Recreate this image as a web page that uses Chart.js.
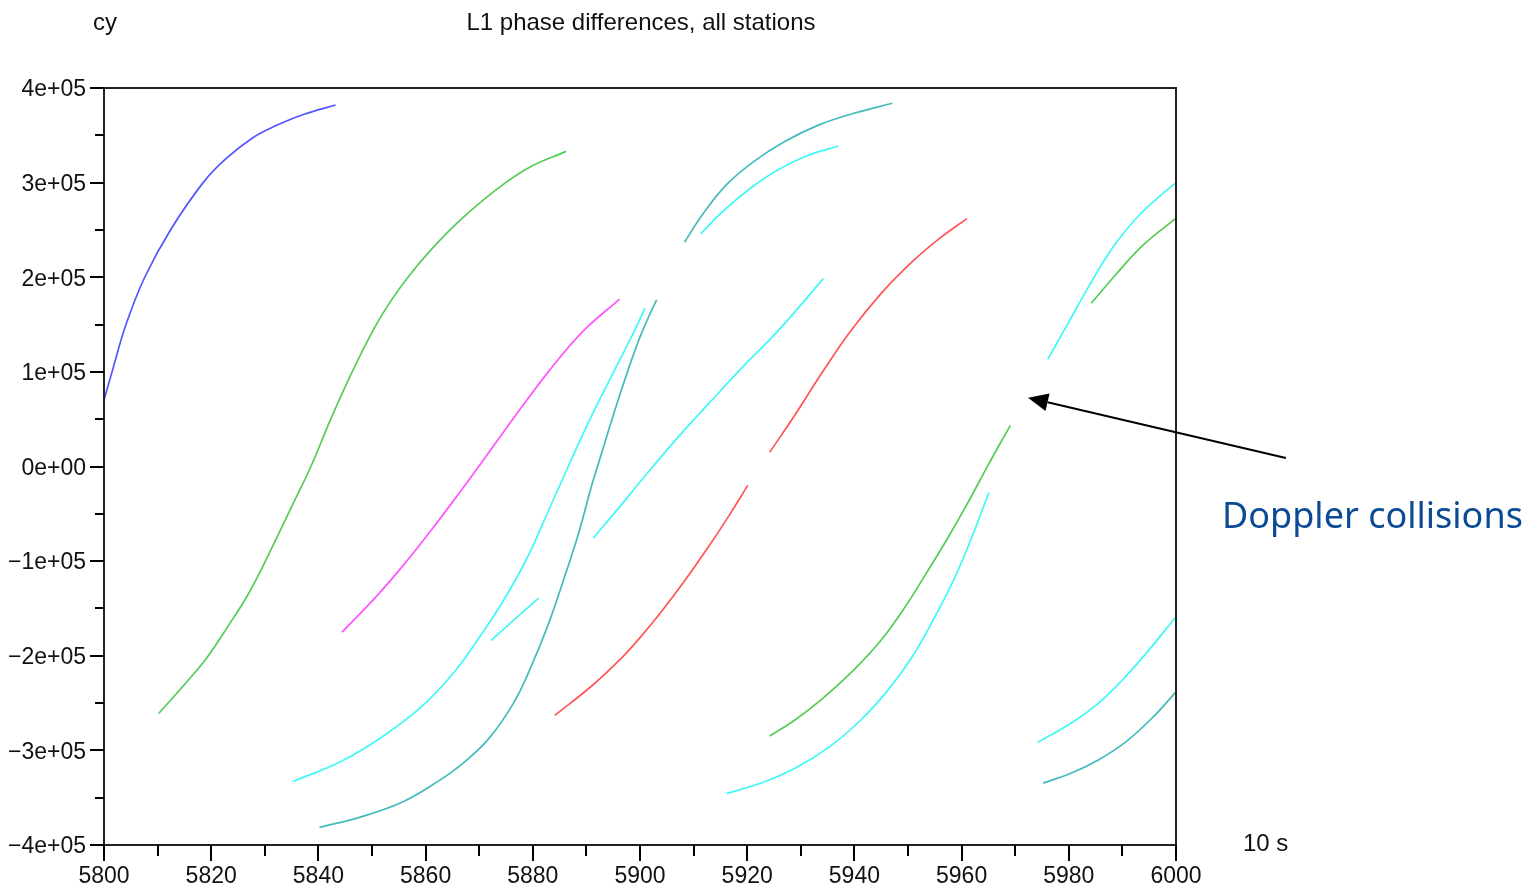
<!DOCTYPE html>
<html>
<head>
<meta charset="utf-8">
<script src="https://cdn.jsdelivr.net/npm/chart.js@4"></script>
<style>
  html, body { margin: 0; padding: 0; background: #ffffff; }
  #wrap { width: 1529px; height: 888px; }
</style>
</head>
<body>
<div id="wrap"><canvas id="c" width="1529" height="888"></canvas></div>
<script>
// ---- data: each segment is a list of [time (10 s units), phase difference (cy)] ----
const blue1 = [[5800,70000],[5801.5,100000],[5804.1,150000],[5807.6,200000],[5812.4,250000],[5818.5,300000],[5822.7,325000],[5827.9,348000],[5832,360000],[5837.2,372000],[5843.2,382000]];
const green1 = [[5810.2,-261000],[5815.3,-228500],[5819.2,-202000],[5823,-170000],[5826.9,-135000],[5830.8,-92000],[5835.3,-39000],[5838.6,0],[5842.3,50000],[5846.3,100000],[5850.4,146000],[5853.4,174000],[5857.1,203000],[5861,229000],[5866.2,259000],[5872.6,290000],[5879,315000],[5886.2,333000]];
const magenta1 = [[5844.4,-175000],[5850.7,-138000],[5855.9,-104000],[5861,-67600],[5866.2,-28700],[5870.3,3000],[5876.4,51000],[5882.9,100000],[5889.3,142500],[5896.2,177000]];
const cyanA = [[5835.3,-332800],[5844.3,-311600],[5852.6,-283000],[5859.7,-251500],[5865.5,-216100],[5870,-180800],[5874.5,-141900],[5879,-95900],[5882.9,-47000],[5886.6,0],[5890.5,48000],[5895,99000],[5898.5,138000],[5900.9,167000]];
const tealB = [[5840.2,-381300],[5848.1,-370000],[5855.9,-354000],[5862.3,-332800],[5867.4,-311600],[5871.9,-286800],[5876.4,-250000],[5879.6,-212600],[5882.9,-166600],[5886.1,-113600],[5888.7,-67600],[5890.9,-21600],[5892.4,6000],[5895.8,68200],[5899.4,128000],[5901.6,158000],[5903.1,176000]];
const cyanC = [[5872.2,-184000],[5876.5,-162000],[5881.1,-139000]];
const cyanD = [[5891.3,-75500],[5896,-44000],[5900.5,-13000],[5907.1,31000],[5912.9,67000],[5919.3,106000],[5925.7,143000],[5934.2,198500]];
const tealE = [[5908.3,237000],[5911.6,265800],[5916.1,297600],[5921.2,322200],[5927,343400],[5933.4,361000],[5939.9,373300],[5947.1,383900]];
const cyanF = [[5911.3,245700],[5915.4,269300],[5920.6,294000],[5925.7,313400],[5931.5,329200],[5937.1,338700]];
const redG = [[5924.2,15000],[5928.9,54400],[5934.1,100300],[5939.2,142500],[5945,183000],[5950.8,216500],[5955.9,241100],[5961,262000]];
const redH = [[5884.1,-263000],[5891.2,-230900],[5896.9,-200300],[5900,-180900],[5903.9,-154000],[5908.4,-120200],[5912.9,-83800],[5916.7,-51100],[5920.1,-20000]];
const greenI = [[5924.2,-284800],[5928.9,-267900],[5934.1,-245000],[5939.9,-215000],[5945,-183400],[5949.5,-148100],[5953.4,-112900],[5957.2,-77700],[5961.1,-39000],[5965,2000],[5969.1,43500]];
const cyanJ = [[5916.2,-345400],[5922.5,-334800],[5928.9,-319000],[5935.4,-296000],[5941.2,-267900],[5946.3,-236100],[5950.8,-201000],[5954.7,-162200],[5958.5,-120000],[5961.7,-77700],[5965.1,-27500]];
const cyanK = [[5976.1,113500],[5979.7,149600],[5983.6,189000],[5988.1,230600],[5992.6,262300],[5996.5,283400],[6000,300000]];
const greenL = [[5984.2,172600],[5988.7,202400],[5993.9,234100],[6000,262400]];
const cyanM = [[5974.2,-291500],[5980.4,-271400],[5985.5,-250300],[5990,-225600],[5994.5,-197000],[6000,-158800]];
const tealN = [[5975.2,-334600],[5980.4,-324200],[5985.5,-310100],[5990.7,-290700],[5995.8,-264300],[6000,-238200]];

const segmentNames = ['blue1','green1','magenta1','cyanA','tealB','cyanC','cyanD','tealE','cyanF','redG','redH','greenI','cyanJ','cyanK','greenL','cyanM','tealN'];
const segmentData = [blue1,green1,magenta1,cyanA,tealB,cyanC,cyanD,tealE,cyanF,redG,redH,greenI,cyanJ,cyanK,greenL,cyanM,tealN];
const segmentKinds = ['blue','green','magenta','cyan','teal','cyan','cyan','teal','cyan','red','red','green','cyan','cyan','green','cyan','teal'];

const xTickValues = [5800,5820,5840,5860,5880,5900,5920,5940,5960,5980,6000];
const xTickLabels = ['5800','5820','5840','5860','5880','5900','5920','5940','5960','5980','6000'];
const yTickValues = [-400000,-300000,-200000,-100000,0,100000,200000,300000,400000];
const yTickLabels = ['\u22124e+05','\u22123e+05','\u22122e+05','\u22121e+05','0e+00','1e+05','2e+05','3e+05','4e+05'];

const titleText = 'L1 phase differences, all stations';
const yUnitText = 'cy';
const xUnitText = '10 s';
const noteText = 'Doppler collisions';
const arrowTail = [6020.5, 9000];
const arrowTip = [5972.4, 72700];

// ---- styles ----
const kindColors = { blue:'#5555ff', green:'#55cc55', magenta:'#ff55ff', cyan:'#40f8f8', teal:'#44bbbb', red:'#ff5555' };
const TICK_FONT = { family: '"Liberation Sans", Arial, sans-serif', size: 23 };

const datasets = segmentData.map((seg, i) => ({
  label: segmentNames[i],
  data: seg.map(p => ({ x: p[0], y: p[1] })),
  borderColor: kindColors[segmentKinds[i]],
  borderWidth: 1.7,
  pointRadius: 0,
  fill: false,
  tension: 0.4
}));

const decor = {
  id: 'decor',
  afterDraw(chart) {
    const ctx = chart.ctx;
    const a = chart.chartArea;
    const xs = chart.scales.x, ys = chart.scales.y;
    ctx.save();
    // frame
    ctx.strokeStyle = '#222';
    ctx.lineWidth = 2;
    ctx.strokeRect(a.left, a.top, a.right - a.left, a.bottom - a.top);
    // ticks
    ctx.strokeStyle = '#000';
    ctx.lineWidth = 2;
    ctx.beginPath();
    ys.ticks.forEach(t => {
      const py = Math.round(ys.getPixelForValue(t.value));
      const major = Math.abs(t.value % 100000) < 1;
      ctx.moveTo(a.left - (major ? 14 : 9), py);
      ctx.lineTo(a.left, py);
    });
    xs.ticks.forEach(t => {
      const px = Math.round(xs.getPixelForValue(t.value));
      const major = Math.abs(t.value % 20) < 1e-6;
      ctx.moveTo(px, a.bottom);
      ctx.lineTo(px, a.bottom + (major ? 16 : 11));
    });
    ctx.stroke();
    // texts
    ctx.fillStyle = '#111';
    ctx.font = '24px "Liberation Sans", Arial, sans-serif';
    ctx.textBaseline = 'alphabetic';
    ctx.textAlign = 'left';
    ctx.fillText(yUnitText, 93, 30);
    ctx.textAlign = 'center';
    ctx.fillText(titleText, 641, 30);
    ctx.textAlign = 'left';
    ctx.fillText(xUnitText, 1243, 851);
    // annotation
    ctx.fillStyle = '#0b4a94';
    ctx.font = '36px "Comic Sans MS", "Noto Sans", sans-serif';
    ctx.fillText(noteText, 1222, 528);
    // arrow (positioned in data space)
    const tx = xs.getPixelForValue(arrowTip[0]), ty = ys.getPixelForValue(arrowTip[1]);
    const sx = xs.getPixelForValue(arrowTail[0]), sy = ys.getPixelForValue(arrowTail[1]);
    const ang = Math.atan2(ty - sy, tx - sx);
    const headLen = 20, headW = 9;
    const bx = tx - headLen * Math.cos(ang), by = ty - headLen * Math.sin(ang);
    ctx.strokeStyle = '#000';
    ctx.lineWidth = 2;
    ctx.beginPath();
    ctx.moveTo(sx, sy);
    ctx.lineTo(bx, by);
    ctx.stroke();
    ctx.fillStyle = '#000';
    ctx.beginPath();
    ctx.moveTo(tx, ty);
    ctx.lineTo(bx + headW * Math.sin(ang), by - headW * Math.cos(ang));
    ctx.lineTo(bx - headW * Math.sin(ang), by + headW * Math.cos(ang));
    ctx.closePath();
    ctx.fill();
    ctx.restore();
  }
};

new Chart(document.getElementById('c'), {
  type: 'line',
  data: { datasets },
  options: {
    responsive: false,
    animation: false,
    layout: { padding: { top: 88, right: 353, bottom: 0, left: 0 } },
    plugins: { legend: { display: false }, tooltip: { enabled: false }, title: { display: false } },
    scales: {
      x: {
        type: 'linear', min: 5800, max: 6000,
        grid: { display: false, drawTicks: false },
        border: { display: false },
        ticks: {
          stepSize: 10, autoSkip: false, maxRotation: 0, padding: 18,
          font: TICK_FONT, color: '#111',
          callback: v => { const i = xTickValues.indexOf(v); return i >= 0 ? xTickLabels[i] : ''; }
        },
        afterFit: s => { s.height = 43; }
      },
      y: {
        type: 'linear', min: -400000, max: 400000,
        grid: { display: false, drawTicks: false },
        border: { display: false },
        ticks: {
          stepSize: 50000, autoSkip: false, padding: 18, labelOffset: 2,
          font: TICK_FONT, color: '#111',
          callback: v => { const i = yTickValues.indexOf(v); return i >= 0 ? yTickLabels[i] : ''; }
        },
        afterFit: s => { s.width = 104; }
      }
    }
  },
  plugins: [decor]
});
</script>
</body>
</html>
